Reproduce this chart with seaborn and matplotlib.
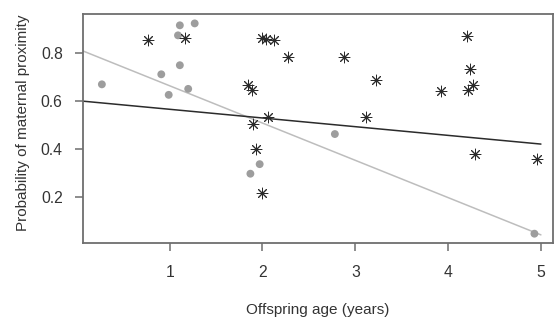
import numpy as np
import pandas as pd
import seaborn as sns
import matplotlib
matplotlib.use("Agg")
import matplotlib.pyplot as plt

# grey dots (one group)
gray_age = [0.27, 0.91, 0.99, 1.11, 1.09, 1.11, 1.27, 1.20, 2.78, 1.97, 1.87, 4.93]
gray_prob = [0.670, 0.712, 0.626, 0.917, 0.875, 0.750, 0.925, 0.651, 0.462, 0.336, 0.296, 0.045]

# asterisks (other group)
star_age = [0.77, 1.17, 2.00, 2.04, 2.12, 2.27, 1.84, 1.885, 2.06, 1.90, 1.935, 2.00,
            2.88, 3.22, 3.12, 4.20, 4.24, 3.92, 4.21, 4.27, 4.29, 4.96]
star_prob = [0.856, 0.863, 0.865, 0.859, 0.857, 0.785, 0.667, 0.645, 0.535, 0.504, 0.400, 0.215,
             0.786, 0.688, 0.535, 0.874, 0.733, 0.644, 0.646, 0.666, 0.377, 0.358]

# fitted lines, ends at age 0 and 5
line_age = [0, 5]
black_fit = [0.602, 0.420]
gray_fit = [0.820, 0.040]

sns.set_style("white")
plt.rcParams['font.family'] = ['Liberation Sans', 'DejaVu Sans']

fig = plt.figure(figsize=(5.56, 3.2), dpi=100)
ax = fig.add_axes([0.149, 0.2406, 0.8456, 0.7154])

sns.lineplot(x=line_age, y=gray_fit, color='#bdbdbd', linewidth=1.1, ax=ax)
sns.lineplot(x=line_age, y=black_fit, color='#2b2b2b', linewidth=1.1, ax=ax)

sns.scatterplot(x=gray_age, y=gray_prob, color='#9d9d9d', s=32, edgecolor='none', ax=ax, zorder=3)
sns.scatterplot(x=star_age, y=star_prob, color='#2a2a2a', marker=(8, 2, 0), s=60,
                linewidth=0.7, ax=ax, zorder=3)

ax.set_xlim(0.065, 5.13)
ax.set_ylim(0.006, 0.964)
ax.set_xticks([1, 2, 3, 4, 5])
ax.set_yticks([0.2, 0.4, 0.6, 0.8])
ax.set_xticklabels(['1', '2', '3', '4', '5'])
ax.set_yticklabels(['0.2', '0.4', '0.6', '0.8'])

for sp in ax.spines.values():
    sp.set_color('#6e6e6e')
    sp.set_linewidth(1.3)

ax.tick_params(axis='both', direction='out', length=5.5, width=1.1, color='#6e6e6e',
               labelsize=11.3, labelcolor='#333333')
ax.tick_params(axis='x', pad=10.5, bottom=True)
ax.tick_params(axis='y', pad=9, left=True)

ax.set_xlabel('Offspring age (years)', fontsize=11, color='#333333', labelpad=16.5)
ax.set_ylabel('Probability of maternal proximity', fontsize=11, color='#333333',
              labelpad=8, y=0.524)

fig.savefig('out.png', dpi=100)
